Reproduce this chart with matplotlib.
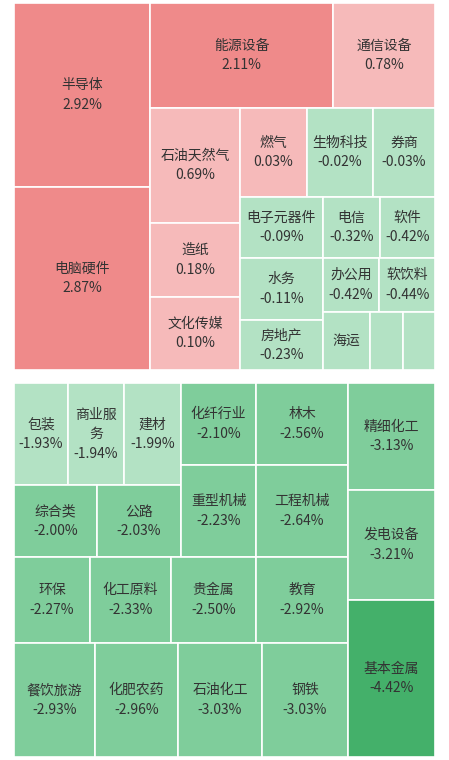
import matplotlib
matplotlib.use("Agg")
import matplotlib.pyplot as plt
from matplotlib.patches import Rectangle

plt.rcParams['font.family'] = ['Noto Sans CJK SC', 'DejaVu Sans']

# Top panel (gainers / small losers)
top_names = ["半导体", "电脑硬件", "能源设备", "通信设备", "石油天然气", "造纸", "文化传媒",
             "燃气", "生物科技", "券商", "电子元器件", "水务", "房地产",
             "电信", "软件", "办公用", "软饮料", "海运", "", ""]
top_values = [2.92, 2.87, 2.11, 0.78, 0.69, 0.18, 0.10,
              0.03, -0.02, -0.03, -0.09, -0.11, -0.23,
              -0.32, -0.42, -0.42, -0.44, -0.50, -0.55, -0.60]
top_weights = [25024, 24888, 19215, 10710, 10350, 6660, 6570,
               5963, 5874, 5518, 5063, 5146, 4150,
               3477, 3355, 3078, 3025, 2726, 1914, 1856]
top_show_value = [True]*17 + [False]*3

# Bottom panel (losers)
bot_names = ["包装", "商业服\n务", "建材", "综合类", "公路", "化纤行业", "重型机械", "林木", "工程机械",
             "环保", "化工原料", "贵金属", "教育", "餐饮旅游", "化肥农药", "石油化工", "钢铁",
             "精细化工", "发电设备", "基本金属"]
bot_values = [-1.93, -1.94, -1.99, -2.00, -2.03, -2.10, -2.23, -2.56, -2.64,
              -2.27, -2.33, -2.50, -2.92, -2.93, -2.96, -3.03, -3.03,
              -3.13, -3.21, -4.42]
bot_weights = [5508, 5712, 5814, 5976, 6048, 6150, 6900, 7544, 8464,
               6536, 6966, 7310, 7912, 9234, 9462, 9576, 9804,
               9309, 9570, 13659]

top_tree = ('h', [('v', [0, 1]),
                  ('v', [('h', [2, 3]),
                         ('h', [('v', [4, 5, 6]),
                                ('v', [('h', [7, 8, 9]),
                                       ('h', [('v', [10, 11, 12]),
                                              ('v', [('h', [13, 14]), ('h', [15, 16]), ('h', [17, 18, 19])])])])])])])
bot_tree = ('h', [('v', [('h', [('v', [('h', [0, 1, 2]), ('h', [3, 4])]),
                                ('v', [5, 6]), ('v', [7, 8])]),
                         ('h', [9, 10, 11, 12]),
                         ('h', [13, 14, 15, 16])]),
                  ('v', [17, 18, 19])])


def wsum(node, w):
    if isinstance(node, int):
        return w[node]
    return sum(wsum(c, w) for c in node[1])


def layout(node, w, x, y, dx, dy, out):
    if isinstance(node, int):
        out[node] = (x, y, dx, dy)
        return
    kind, ch = node
    tot = wsum(node, w)
    pos = 0.0
    for c in ch:
        f = wsum(c, w) / tot
        if kind == 'h':
            layout(c, w, x + pos * dx, y, f * dx, dy, out)
        else:
            layout(c, w, x, y + pos * dy, dx, f * dy, out)
        pos += f


def color(v):
    if v >= 1:
        return "#ef8a8a"
    if v >= 0:
        return "#f6baba"
    if v > -2:
        return "#b3e2c4"
    if v > -4:
        return "#7fcd9b"
    return "#44b06a"


fig = plt.figure(figsize=(4.49, 7.6), dpi=100)
ax = fig.add_axes([0, 0, 1, 1])
ax.set_xlim(0, 449)
ax.set_ylim(760, 0)
ax.axis('off')


def draw(tree, names, values, weights, box, show=None):
    out = {}
    x, y, dx, dy = box
    layout(tree, weights, x, y, dx, dy, out)
    for i, (rx, ry, rw, rh) in out.items():
        ax.add_patch(Rectangle((rx, ry), rw, rh, facecolor=color(values[i]),
                               edgecolor='white', linewidth=1.2))
        if names[i]:
            cx, cy = rx + rw / 2, ry + rh / 2
            if show is None or show[i]:
                label = f"{names[i]}\n{values[i]:.2f}%"
            else:
                label = names[i]
            ax.text(cx, cy, label, ha='center', va='center', fontsize=10,
                    color='#333333', linespacing=1.5)


draw(top_tree, top_names, top_values, top_weights, (14, 3, 421, 367), top_show_value)
draw(bot_tree, bot_names, bot_values, bot_weights, (14, 383, 421, 374))

fig.savefig("out.png", dpi=100)
